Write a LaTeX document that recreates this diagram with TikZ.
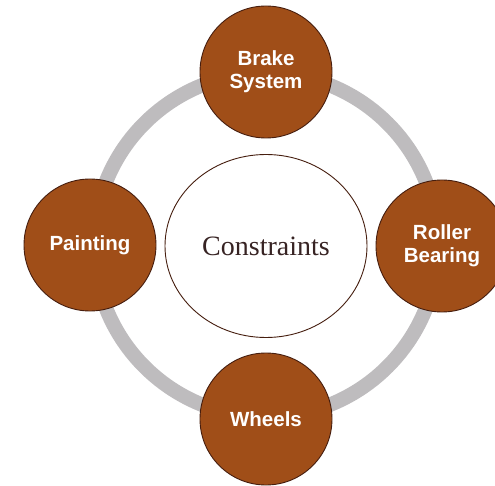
\documentclass[tikz,border=0pt]{standalone}
\usepackage{fontspec}
\setmainfont{Liberation Serif}
\setsansfont{Liberation Sans}
\usetikzlibrary{shapes.geometric}
\definecolor{ctbrown}{RGB}{160,78,24}
\definecolor{ctedge}{RGB}{70,30,15}
\definecolor{ctring}{RGB}{190,188,190}
\definecolor{cttext}{RGB}{55,35,35}

\begin{document}
\begin{tikzpicture}[x=1pt,y=-1pt,
    part/.style={circle,fill=ctbrown,draw=ctedge,line width=0.9pt,
      minimum size=132pt,inner sep=0pt,align=center,text=white,
      font=\sffamily\bfseries\fontsize{20.5}{23}\selectfont},
    hub/.style={ellipse,draw=ctedge,line width=0.9pt,fill=white,
      minimum width=202pt,minimum height=183pt,text=cttext,
      font=\fontsize{28}{32}\selectfont}]
  \useasboundingbox (0,0) rectangle (495,486);
  % Ring behind the parts
  \draw[ctring,line width=14.5pt] (266,245) circle [radius=172pt];
  % Centre
  \node[hub] (constraints) at (266,246) {Constraints};
  % Parts round the ring
  \node[part] (brake) at (266,72) {Brake\\System};
  \node[part] (painting) at (90,245) {Painting};
  \node[part] (roller) at (442,246) {Roller\\Bearing};
  \node[part] (wheels) at (266,419) {Wheels};
\end{tikzpicture}
\end{document}
